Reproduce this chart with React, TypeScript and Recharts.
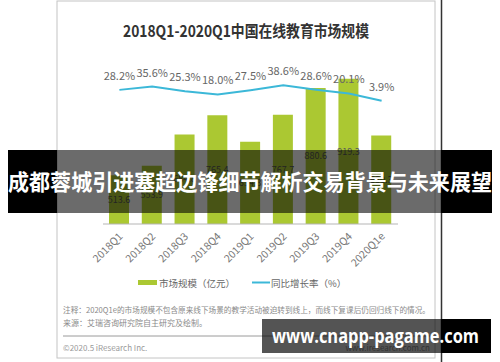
import React from 'react';
import { ComposedChart, Bar, Line, XAxis, YAxis, LabelList, Legend } from 'recharts';

const categories = ['2018Q1', '2018Q2', '2018Q3', '2018Q4', '2019Q1', '2019Q2', '2019Q3', '2019Q4', '2020Q1e'];
const marketSize = [513.6, 553.9, 684.8, 765.4, 654.8, 767.7, 880.6, 919.3, 680.3];
const growthRate = [28.2, 35.6, 25.3, 18.0, 27.5, 38.6, 28.6, 20.1, 3.9];
const seriesNames = ['市场规模（亿元）', '同比增长率（%）'];

const data = categories.map((c, i) => ({ name: c, size: marketSize[i], rate: growthRate[i] }));

const FONT = "'Noto Sans CJK SC', 'Noto Sans', sans-serif";
const GREEN = '#abc832';
const CYAN = '#3cb8d8';

const XTick = (props: any) => {
  const { x, y, payload } = props;
  return (
    <text
      transform={`translate(${x + 4},${y + 13}) rotate(-45)`}
      textAnchor="end"
      fontSize={10.5}
      fill="#777"
      fontFamily={FONT}
    >
      {payload.value}
    </text>
  );
};

const LegendContent = () => (
  <svg width={500} height={16} style={{ display: 'block' }}>
    <rect x={138} y={5} width={19} height={5} fill={GREEN} />
    <text x={159} y={11.5} fontSize={9.5} fill="#666" fontFamily={FONT}>{seriesNames[0]}</text>
    <line x1={252} x2={270} y1={7.5} y2={7.5} stroke={CYAN} strokeWidth={2} />
    <text x={271} y={11.5} fontSize={9.5} fill="#666" fontFamily={FONT}>{seriesNames[1]}</text>
  </svg>
);

export default function App() {
  return (
    <div style={{ position: 'absolute', left: 0, top: 0, width: 500, height: 362, background: '#fff', overflow: 'hidden' }}>
      <ComposedChart
        width={500}
        height={362}
        data={data}
        margin={{ top: 60, right: 102, bottom: 108, left: 103 }}
      >
        <XAxis
          dataKey="name"
          height={30}
          tick={<XTick />}
          tickLine={false}
          tickSize={0}
          tickMargin={0}
          axisLine={{ stroke: '#b5b5b5' }}
          interval={0}
        />
        <YAxis yAxisId="left" hide domain={[309, 998]} />
        <YAxis yAxisId="right" hide orientation="right" domain={[-274, 95.5]} />
        <Bar yAxisId="left" dataKey="size" name={seriesNames[0]} fill={GREEN} barSize={20} isAnimationActive={false}>
          <LabelList
            dataKey="size"
            position="center"
            fontSize={9}
            fill="#555"
            fontFamily={FONT}
            formatter={(v: any) => Number(v).toFixed(1)}
          />
        </Bar>
        <Line
          yAxisId="right"
          type="linear"
          dataKey="rate"
          name={seriesNames[1]}
          stroke={CYAN}
          strokeWidth={2}
          dot={false}
          isAnimationActive={false}
        >
          <LabelList
            dataKey="rate"
            position="top"
            offset={10}
            fontSize={11}
            fill="#666"
            fontFamily={FONT}
            formatter={(v: any) => Number(v).toFixed(1) + '%'}
          />
        </Line>
        <Legend
          layout="horizontal"
          verticalAlign="middle"
          align="center"
          wrapperStyle={{ top: 275, left: 0, width: 500, height: 16 }}
          content={<LegendContent />}
        />
      </ComposedChart>
      <svg
        width={500}
        height={362}
        style={{ position: 'absolute', left: 0, top: 0, pointerEvents: 'none' }}
      >
        <rect x={57} y={1} width={378} height={357} fill="none" stroke="#c4c4c4" strokeWidth={1} />
        <line x1={441.5} x2={441.5} y1={0} y2={362} stroke="#333" strokeWidth={1.5} />
        <text x={246} y={37} textAnchor="middle" fontSize={16} fontWeight="bold" fill="#333" fontFamily={FONT} textLength={246} lengthAdjust="spacingAndGlyphs">
          2018Q1-2020Q1中国在线教育市场规模
        </text>
        <text x={63} y={313} fontSize={8} fill="#8a8a8a" fontFamily={FONT} textLength={367} lengthAdjust="spacingAndGlyphs">
          注释：2020Q1e的市场规模不包含原来线下场景的教学活动被迫转到线上，而线下复课后仍回归线下的情况。
        </text>
        <text x={63} y={326} fontSize={8} fill="#8a8a8a" fontFamily={FONT}>
          来源：艾瑞咨询研究院自主研究及绘制。
        </text>
        <line x1={63} x2={430} y1={336} y2={336} stroke="#9a9a9a" strokeWidth={1} />
        <text x={63} y={351} fontSize={8} fill="#9a9a9a" fontFamily={FONT}>©2020.5 iResearch Inc.</text>
        <text x={430} y={351} textAnchor="end" fontSize={8} fill="#9a9a9a" fontFamily={FONT}>www.iresearch.com.cn</text>

        <rect x={8} y={150} width={49} height={63} fill="#000" />
        <rect x={57} y={150} width={384} height={63} fill="rgba(0,0,0,0.58)" />
        <rect x={441} y={150} width={51} height={63} fill="#000" />
        <text x={250} y={189.5} textAnchor="middle" fontSize={22} fontWeight="bold" fill="#fff" fontFamily={FONT} textLength={484} lengthAdjust="spacingAndGlyphs">
          成都蓉城引进塞超边锋细节解析交易背景与未来展望
        </text>

        <rect x={262} y={319} width={179} height={34} fill="rgba(0,0,0,0.67)" />
        <rect x={441} y={319} width={50} height={34} fill="#000" />
        <text x={375.5} y={343} textAnchor="middle" fontSize={19} fontWeight="bold" fill="#fff" fontFamily="'Open Sans', 'Noto Sans', sans-serif" textLength={207} lengthAdjust="spacingAndGlyphs">
          www.cnapp-pagame.com
        </text>
      </svg>
    </div>
  );
}
